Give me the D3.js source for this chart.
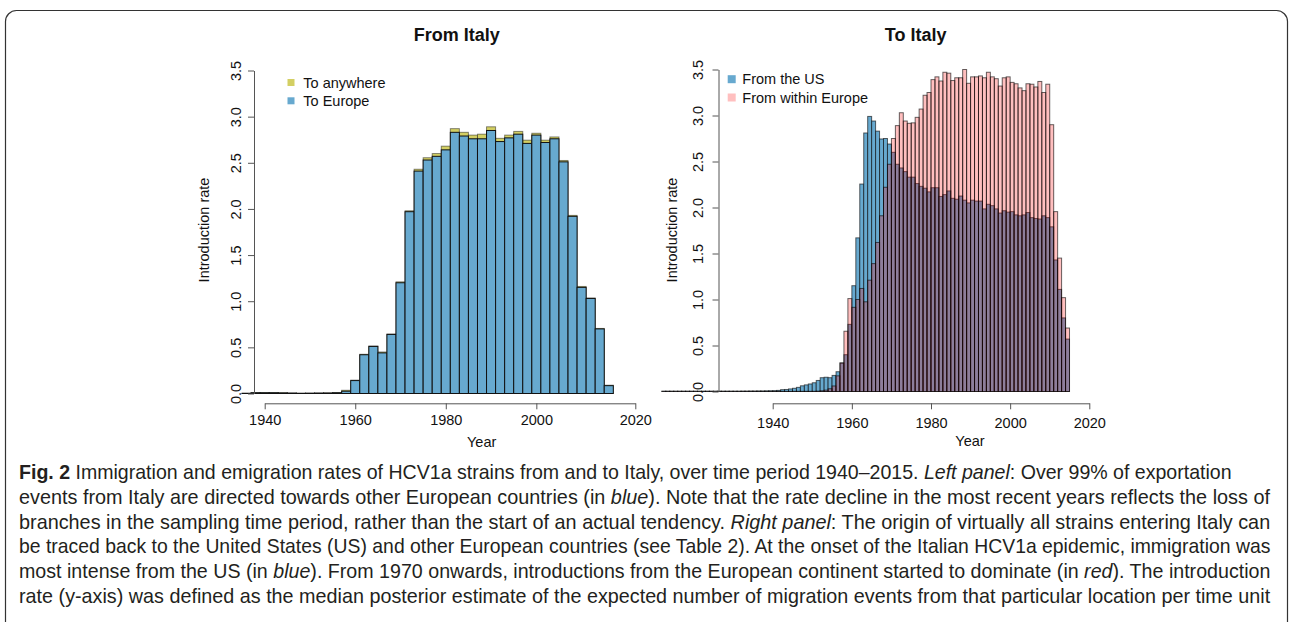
<!DOCTYPE html>
<html>
<head>
<meta charset="utf-8">
<script src="https://d3js.org/d3.v7.min.js"></script>
<style>
body { margin: 0; background: #fff; }
svg text { font-family: "Liberation Sans", Arial, Helvetica, sans-serif; fill: #111; }
.caption text { font-family: "Liberation Sans Narrow", "Liberation Sans", Arial, sans-serif; font-stretch: condensed; fill: #231f20; }
</style>
</head>
<body>
<svg id="drawing_region"></svg>
<script>
// ---- From Italy (2-year bins, left edge) ----
const from_bins = [1935, 1937, 1939, 1941, 1943, 1945, 1947, 1949, 1951, 1953, 1955,
    1957, 1959, 1961, 1963, 1965, 1967, 1969, 1971, 1973, 1975, 1977, 1979, 1981, 1983,
    1985, 1987, 1989, 1991, 1993, 1995, 1997, 1999, 2001, 2003, 2005, 2007, 2009, 2011,
    2013, 2015];
const to_anywhere = [0.002, 0.01, 0.01, 0.01, 0.008, 0.005, 0.002, 0.003, 0.005, 0.006, 0.01,
    0.035, 0.145, 0.425, 0.515, 0.45, 0.645, 1.21, 1.98, 2.43, 2.555, 2.60, 2.68, 2.87, 2.83,
    2.80, 2.81, 2.89, 2.765, 2.80, 2.84, 2.745, 2.82, 2.745, 2.78, 2.525, 1.93, 1.16, 1.035,
    0.705, 0.09];
const to_europe = [0.002, 0.008, 0.008, 0.008, 0.006, 0.004, 0.002, 0.003, 0.004, 0.005, 0.008,
    0.025, 0.14, 0.42, 0.51, 0.44, 0.64, 1.20, 1.97, 2.41, 2.53, 2.57, 2.64, 2.83, 2.79,
    2.76, 2.76, 2.85, 2.73, 2.77, 2.81, 2.71, 2.80, 2.72, 2.76, 2.51, 1.92, 1.15, 1.03,
    0.70, 0.085];

// ---- To Italy (1-year bins, left edge) ----
const to_years = [1912, 1913, 1914, 1915, 1916, 1917, 1918, 1919, 1920, 1921, 1922, 1923,
    1924, 1925, 1926, 1927, 1928, 1929, 1930, 1931, 1932, 1933, 1934, 1935, 1936, 1937,
    1938, 1939, 1940, 1941, 1942, 1943, 1944, 1945, 1946, 1947, 1948, 1949, 1950, 1951,
    1952, 1953, 1954, 1955, 1956, 1957, 1958, 1959, 1960, 1961, 1962, 1963, 1964, 1965,
    1966, 1967, 1968, 1969, 1970, 1971, 1972, 1973, 1974, 1975, 1976, 1977, 1978, 1979,
    1980, 1981, 1982, 1983, 1984, 1985, 1986, 1987, 1988, 1989, 1990, 1991, 1992, 1993,
    1994, 1995, 1996, 1997, 1998, 1999, 2000, 2001, 2002, 2003, 2004, 2005, 2006, 2007,
    2008, 2009, 2010, 2011, 2012, 2013, 2014];
const from_us = [0.003, 0.003, 0.003, 0.003, 0.003, 0.003, 0.003, 0.003, 0.003, 0.003,
    0.003, 0.003, 0.003, 0.003, 0.003, 0.003, 0.003, 0.003, 0.003, 0.003,
    0.004, 0.004, 0.005, 0.005, 0.006, 0.006, 0.007, 0.008, 0.009, 0.012,
    0.02, 0.022, 0.028, 0.035, 0.045, 0.062, 0.072, 0.082, 0.095, 0.12,
    0.15, 0.155, 0.15, 0.175, 0.215, 0.31, 0.40, 0.73, 1.15, 1.67,
    2.255, 2.81, 2.99, 2.94, 2.83, 2.745, 2.75, 2.69, 2.60, 2.47,
    2.43, 2.39, 2.33, 2.33, 2.26, 2.23, 2.21, 2.17, 2.215, 2.215,
    2.12, 2.14, 2.18, 2.10, 2.09, 2.125, 2.08, 2.05, 2.08, 2.07,
    2.07, 1.985, 2.035, 2.02, 1.985, 1.94, 1.965, 1.95, 1.955, 1.92,
    1.91, 1.92, 1.945, 1.89, 1.88, 1.875, 1.91, 1.89, 1.79, 1.43,
    1.11, 0.80, 0.57];
const from_europe = [0.002, 0.002, 0.002, 0.002, 0.002, 0.002, 0.002, 0.002, 0.002, 0.002,
    0.002, 0.002, 0.002, 0.002, 0.002, 0.002, 0.002, 0.002, 0.002, 0.002,
    0.002, 0.002, 0.002, 0.002, 0.002, 0.002, 0.002, 0.002, 0.002, 0.002,
    0.002, 0.002, 0.002, 0.002, 0.002, 0.002, 0.002, 0.002, 0.002, 0.004,
    0.008, 0.015, 0.03, 0.06, 0.17, 0.31, 0.655, 1.01, 0.915, 1.00,
    1.12, 0.975, 1.21, 1.39, 1.62, 1.91, 2.22, 2.47, 2.75, 2.89,
    3.03, 2.94, 2.915, 2.92, 2.98, 3.07, 3.22, 3.25, 3.39, 3.42,
    3.375, 3.47, 3.46, 3.38, 3.41, 3.41, 3.50, 3.35, 3.42, 3.42,
    3.43, 3.41, 3.47, 3.42, 3.40, 3.32, 3.41, 3.42, 3.36, 3.345,
    3.30, 3.27, 3.345, 3.34, 3.31, 3.37, 3.25, 3.34, 2.90, 1.955,
    1.45, 1.02, 0.69];

const y_ticks = [0, 0.5, 1, 1.5, 2, 2.5, 3, 3.5];
const x_ticks = [1940, 1960, 1980, 2000, 2020];

// caption lines as [text, style] pieces: b = bold, i = italic
const caption_lines = [
    [['Fig. 2', 'b'], [' Immigration and emigration rates of HCV1a strains from and to Italy, over time period 1940–2015. ', ''], ['Left panel', 'i'], [': Over 99% of exportation', '']],
    [['events from Italy are directed towards other European countries (in ', ''], ['blue', 'i'], ['). Note that the rate decline in the most recent years reflects the loss of', '']],
    [['branches in the sampling time period, rather than the start of an actual tendency. ', ''], ['Right panel', 'i'], [': The origin of virtually all strains entering Italy can', '']],
    [['be traced back to the United States (US) and other European countries (see Table 2). At the onset of the Italian HCV1a epidemic, immigration was', '']],
    [['most intense from the US (in ', ''], ['blue', 'i'], ['). From 1970 onwards, introductions from the European continent started to dominate (in ', ''], ['red', 'i'], ['). The introduction', '']],
    [['rate (y-axis) was defined as the median posterior estimate of the expected number of migration events from that particular location per time unit', '']]
];
const caption_widths = [1214, 1252, 1252, 1252, 1252, 1252];

const svg = d3.select('#drawing_region')
    .attr('width', 1292)
    .attr('height', 622);

class Histogram {

    constructor( config, bins, series ) {
        this.config = config;
        this.bins = bins;
        this.series = series;
        this.init();
    }

    init() {
        let self = this;
        const c = self.config;

        self.chart = svg.append('g');

        self.xscale = d3.scaleLinear()
            .domain( c.xdomain )
            .range( c.xrange );

        self.yscale = d3.scaleLinear()
            .domain( [0, 3.5] )
            .range( c.yrange );

        self.chart.append('text')
            .attr('x', c.title_x)
            .attr('y', 35)
            .attr('dy', '0.35em')
            .attr('text-anchor', 'middle')
            .style('font-size', '18px')
            .style('font-weight', 'bold')
            .text(c.title);

        self.chart.append('text')
            .attr('x', c.xlabel_x)
            .attr('y', c.xlabel_y)
            .attr('dy', '0.35em')
            .attr('text-anchor', 'middle')
            .style('font-size', '14.5px')
            .text('Year');

        self.chart.append('text')
            .attr('transform', `translate(${c.ylabel_x}, 230) rotate(-90)`)
            .attr('dy', '0.35em')
            .attr('text-anchor', 'middle')
            .style('font-size', '14.5px')
            .text('Introduction rate');
    }

    render() {
        let self = this;
        const c = self.config;

        self.series.forEach( s => {
            self.chart.append('g')
                .selectAll('rect')
                .data( self.bins.map( (b, i) => ({ x0: b, v: s.values[i] }) ) )
                .join('rect')
                .attr('x', d => self.xscale( d.x0 ))
                .attr('width', d => self.xscale( d.x0 + c.bin_width ) - self.xscale( d.x0 ))
                .attr('y', d => self.yscale( d.v ))
                .attr('height', d => self.yscale( 0 ) - self.yscale( d.v ))
                .attr('fill', s.fill)
                .attr('stroke', s.stroke)
                .attr('stroke-width', 1);
        });

        const yaxis = d3.axisLeft( self.yscale )
            .tickValues( y_ticks )
            .tickFormat( d3.format('.1f') )
            .tickSize(6)
            .tickSizeOuter(0);

        const yaxis_group = self.chart.append('g')
            .attr('transform', `translate(${c.yaxis_x}, 0)`)
            .call( yaxis );
        yaxis_group.selectAll('text')
            .attr('x', null)
            .attr('dy', '0.35em')
            .attr('transform', `translate(${c.ytick_dx}, 0) rotate(-90)`)
            .attr('text-anchor', 'middle');

        const xaxis = d3.axisBottom( self.xscale )
            .tickValues( x_ticks )
            .tickFormat( d3.format('d') )
            .tickSize(6)
            .tickSizeOuter(0);

        const xaxis_group = self.chart.append('g')
            .attr('transform', `translate(0, ${c.xaxis_y})`)
            .call( xaxis );
        xaxis_group.selectAll('text')
            .attr('y', c.xtick_dy)
            .attr('dy', '0.35em');

        [yaxis_group, xaxis_group].forEach( g => {
            g.selectAll('.domain, line').attr('stroke', '#555');
            g.selectAll('text').style('font-size', '14.5px').attr('fill', '#111');
        });

        // legend
        self.series.forEach( (s, i) => {
            self.chart.append('rect')
                .attr('x', c.legend_x - c.legend_size / 2)
                .attr('y', c.legend_y[i] - c.legend_size / 2)
                .attr('width', c.legend_size)
                .attr('height', c.legend_size)
                .attr('fill', s.legend_fill);
            self.chart.append('text')
                .attr('x', c.legend_text_x)
                .attr('y', c.legend_y[i])
                .attr('dy', '0.35em')
                .style('font-size', '14.5px')
                .text(s.label);
        });
    }
}

// outer frame
svg.append('rect')
    .attr('x', 5.5)
    .attr('y', 10.5)
    .attr('width', 1282)
    .attr('height', 700)
    .attr('rx', 11)
    .attr('fill', 'none')
    .attr('stroke', '#333')
    .attr('stroke-width', 1.2);

let from_chart = new Histogram({
    title: 'From Italy', title_x: 456.7,
    xdomain: [1940, 2017, 2020], xrange: [264.7, 613.3, 635.3],
    yrange: [393.5, 70.5],
    yaxis_x: 254, ytick_dx: -18.2,
    xaxis_y: 403.3, xtick_dy: 16.7,
    xlabel_x: 481.7, xlabel_y: 441.7,
    ylabel_x: 204,
    legend_x: 291, legend_y: [82.5, 100.8], legend_text_x: 303.3, legend_size: 7,
    bin_width: 2
}, from_bins, [
    { values: to_anywhere, fill: '#d3cf63', stroke: 'rgba(0,0,0,0.45)', legend_fill: '#d3cf63', label: 'To anywhere' },
    { values: to_europe, fill: '#67a9cf', stroke: '#111', legend_fill: '#67a9cf', label: 'To Europe' }
]);
from_chart.render();

let to_chart = new Histogram({
    title: 'To Italy', title_x: 915.7,
    xdomain: [1940, 2020], xrange: [772.7, 1089.3],
    yrange: [391.5, 69.5],
    yaxis_x: 718.5, ytick_dx: -21,
    xaxis_y: 403.3, xtick_dy: 20,
    xlabel_x: 970, xlabel_y: 441,
    ylabel_x: 671.7,
    legend_x: 731.7, legend_y: [79.2, 97.5], legend_text_x: 742.3, legend_size: 8,
    bin_width: 1
}, to_years, [
    { values: from_us, fill: '#67a9cf', stroke: 'rgba(0,0,0,0.6)', legend_fill: '#67a9cf', label: 'From the US' },
    { values: from_europe, fill: 'rgba(255,0,0,0.25)', stroke: 'rgba(0,0,0,0.6)', legend_fill: '#ffbfbf', label: 'From within Europe' }
]);
to_chart.render();

// caption: each line squeezed horizontally to the justified width
const caption = svg.append('g').attr('class', 'caption');
caption_lines.forEach( (line, i) => {
    const t = caption.append('text')
        .style('font-size', '20px');
    line.forEach( seg => {
        t.append('tspan')
            .style('font-weight', seg[1] === 'b' ? 'bold' : null)
            .style('font-style', seg[1] === 'i' ? 'italic' : null)
            .text(seg[0]);
    });
    const natural = t.node().getComputedTextLength();
    t.attr('transform', `translate(19, ${479 + i * 24.8}) scale(${caption_widths[i] / natural}, 1)`);
});
</script>
</body>
</html>
